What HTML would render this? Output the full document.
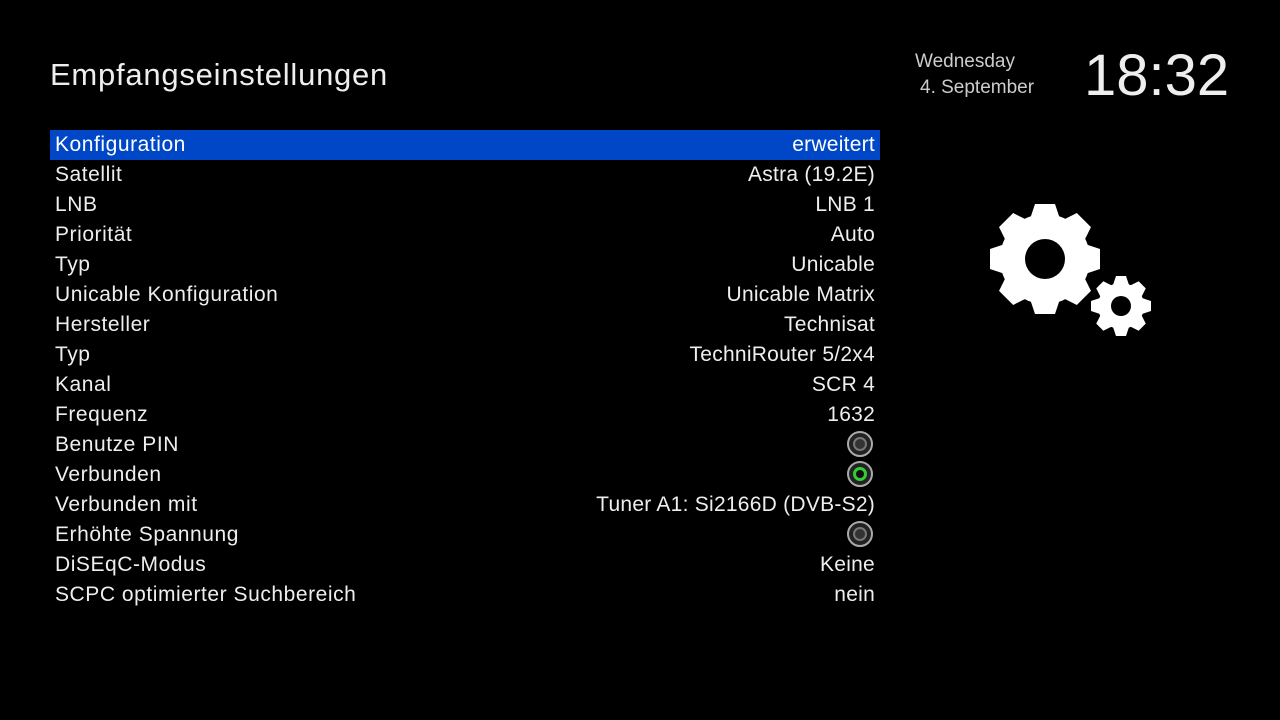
<!DOCTYPE html>
<html><head><style>
body{margin:0;width:1280px;height:720px;background:#000;overflow:hidden;font-family:"Liberation Sans",sans-serif;color:#fff;position:relative}
.t{position:absolute;left:50px;top:57px;font-size:31px;color:#eee;letter-spacing:0.75px}
.d{position:absolute;font-size:19px;color:#ccc}
.clk{position:absolute;left:1084px;top:42px;font-size:58px;color:#eee}
.row{position:absolute;left:50px;width:830px;height:30px;line-height:30px;font-size:21px;color:#eee;letter-spacing:0.55px}
.row .l{position:absolute;left:5px}
.row .r{position:absolute;right:5px;letter-spacing:0.25px}
.sel{background:#0047c8;color:#fff}
.tg{position:absolute;right:7px;width:26px;height:26px;border-radius:50%;border:2px solid #aaa;background:#222;box-sizing:border-box}
.tg::after{content:"";position:absolute;left:4px;top:4px;width:14px;height:14px;border-radius:50%;border:2px solid #777;box-sizing:border-box;background:#333}
.tg.on::after{border-color:#3c3;background:#111;border-width:3px}
</style></head><body>
<div class="t">Empfangseinstellungen</div>
<div class="d" style="left:915px;top:51px">Wednesday</div>
<div class="d" style="left:920px;top:77px">4. September</div>
<div class="clk">18:32</div>
<div class="row sel" style="top:130px"><span class="l">Konfiguration</span><span class="r">erweitert</span></div>
<div class="row" style="top:160px"><span class="l">Satellit</span><span class="r">Astra (19.2E)</span></div>
<div class="row" style="top:190px"><span class="l">LNB</span><span class="r">LNB 1</span></div>
<div class="row" style="top:220px"><span class="l">Priorität</span><span class="r">Auto</span></div>
<div class="row" style="top:250px"><span class="l">Typ</span><span class="r">Unicable</span></div>
<div class="row" style="top:280px"><span class="l">Unicable Konfiguration</span><span class="r">Unicable Matrix</span></div>
<div class="row" style="top:310px"><span class="l">Hersteller</span><span class="r">Technisat</span></div>
<div class="row" style="top:340px"><span class="l">Typ</span><span class="r">TechniRouter 5/2x4</span></div>
<div class="row" style="top:370px"><span class="l">Kanal</span><span class="r">SCR 4</span></div>
<div class="row" style="top:400px"><span class="l">Frequenz</span><span class="r">1632</span></div>
<div class="row" style="top:430px"><span class="l">Benutze PIN</span><span class="tg" style="top:1px"></span></div>
<div class="row" style="top:460px"><span class="l">Verbunden</span><span class="tg on" style="top:1px"></span></div>
<div class="row" style="top:490px"><span class="l">Verbunden mit</span><span class="r">Tuner A1: Si2166D (DVB-S2)</span></div>
<div class="row" style="top:520px"><span class="l">Erhöhte Spannung</span><span class="tg" style="top:1px"></span></div>
<div class="row" style="top:550px"><span class="l">DiSEqC-Modus</span><span class="r">Keine</span></div>
<div class="row" style="top:580px"><span class="l">SCPC optimierter Suchbereich</span><span class="r">nein</span></div>
<svg style="position:absolute;left:0;top:0" width="1280" height="720">
<g transform="translate(1045,259)" fill="#fff">
<circle r="45"/>
<g id="tb"><path d="M-15,-40 L-10,-55 L10,-55 L15,-40 Z"/></g>
<use href="#tb" transform="rotate(45)"/><use href="#tb" transform="rotate(90)"/><use href="#tb" transform="rotate(135)"/>
<use href="#tb" transform="rotate(180)"/><use href="#tb" transform="rotate(225)"/><use href="#tb" transform="rotate(270)"/><use href="#tb" transform="rotate(315)"/>
<circle r="20" fill="#000"/>
</g>
<g transform="translate(1121,306)" fill="#fff">
<circle r="23"/>
<g id="ts"><path d="M-8,-21 L-5,-30 L5,-30 L8,-21 Z"/></g>
<use href="#ts" transform="rotate(45)"/><use href="#ts" transform="rotate(90)"/><use href="#ts" transform="rotate(135)"/>
<use href="#ts" transform="rotate(180)"/><use href="#ts" transform="rotate(225)"/><use href="#ts" transform="rotate(270)"/><use href="#ts" transform="rotate(315)"/>
<circle r="10" fill="#000"/>
</g>
</svg>
</body></html>
